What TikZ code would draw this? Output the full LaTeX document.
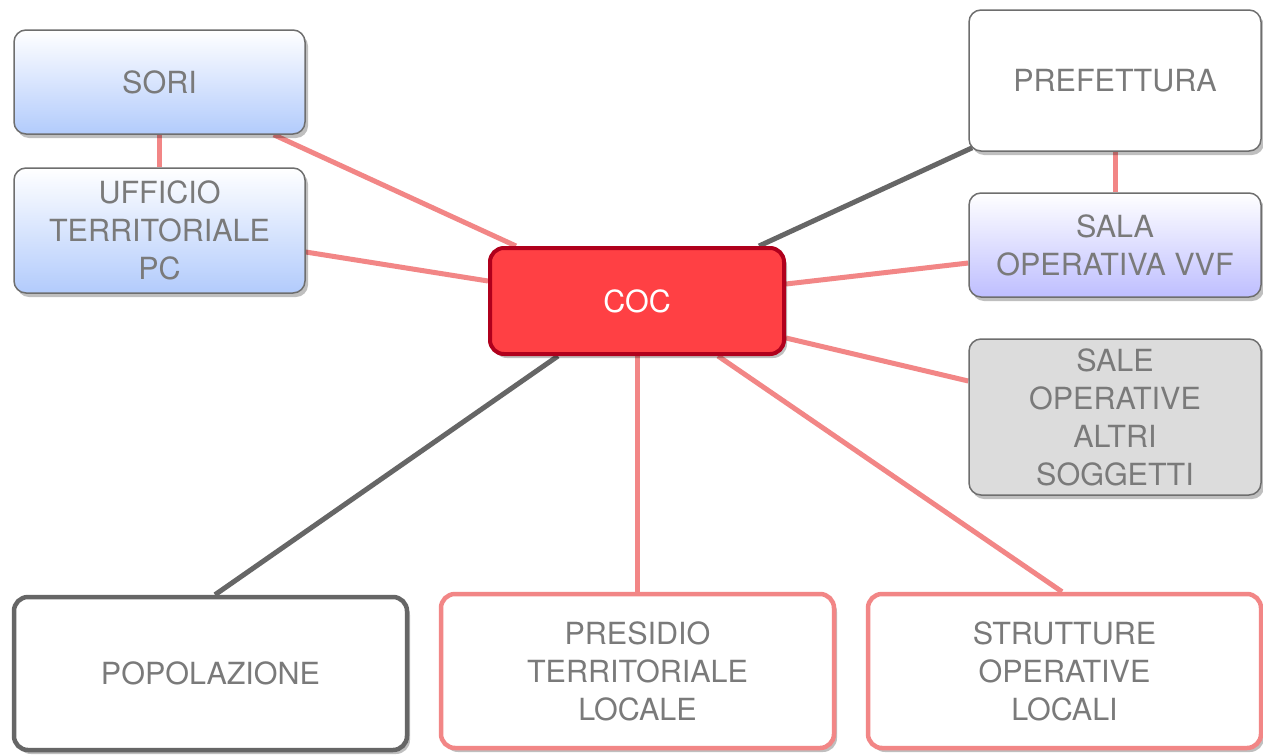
\documentclass[tikz,border=0pt]{standalone}
\usepackage{fontspec}
\setmainfont{TeX Gyre Heros}
\usetikzlibrary{shadows,backgrounds,calc}
\pgfdeclarelayer{edges}
\pgfsetlayers{background,edges,main}
\definecolor{txtgray}{HTML}{7A7A7A}
\definecolor{bordgray}{HTML}{6E6E6E}
\definecolor{salmon}{HTML}{F28686}
\definecolor{darkgray}{HTML}{666666}
\definecolor{cocred}{HTML}{FF4044}
\definecolor{cocborder}{HTML}{B0001C}
\definecolor{blueb}{HTML}{B2CBFC}
\definecolor{lavb}{HTML}{BEBEFF}
\definecolor{greyfill}{HTML}{DCDCDC}
\tikzset{
  box/.style={rectangle, rounded corners=12pt, draw=bordgray, line width=1.5pt,
    text=txtgray, align=center, inner sep=0pt,
    font=\fontsize{30.5}{38}\selectfont,
    drop shadow={shadow xshift=3pt, shadow yshift=-4pt, opacity=0.25, fill=black}},
  bluebox/.style={box, top color=white, bottom color=blueb},
  lavbox/.style={box, top color=white, bottom color=lavb},
  greybox/.style={box, fill=greyfill},
  whitebox/.style={box, fill=white},
  thickgray/.style={box, fill=white, draw=darkgray, line width=4.5pt, rounded corners=14pt},
  thicksalmon/.style={box, fill=white, draw=salmon, line width=4.5pt, rounded corners=14pt},
  cocbox/.style={box, fill=cocred, draw=cocborder, line width=4pt, text=white, rounded corners=14pt},
  redlink/.style={draw=salmon, line width=5pt},
  graylink/.style={draw=darkgray, line width=5pt},
}
\begin{document}
\begin{tikzpicture}[x=1pt,y=-1pt]
\begin{pgfonlayer}{background}
\fill[white] (0,0) rectangle (1263,755);
\end{pgfonlayer}
\useasboundingbox (0,0) rectangle (1263,755);
\node[bluebox, minimum width=291pt, minimum height=104pt] (sori) at (159.5,82) {SORI};
\node[bluebox, minimum width=291pt, minimum height=125pt] (uff) at (159.5,230.5) {UFFICIO\\TERRITORIALE\\PC};
\node[cocbox, minimum width=294pt, minimum height=106pt] (coc) at (637,301) {COC};
\node[whitebox, minimum width=292pt, minimum height=141pt] (pref) at (1115,80.5) {PREFETTURA};
\node[lavbox, minimum width=292pt, minimum height=104pt] (sala) at (1115,245) {SALA\\OPERATIVA VVF};
\node[greybox, minimum width=292pt, minimum height=156pt] (sale) at (1115,417) {SALE\\OPERATIVE\\ALTRI\\SOGGETTI};
\node[thickgray, minimum width=393pt, minimum height=153pt] (pop) at (210.5,673.5) {POPOLAZIONE};
\node[thicksalmon, minimum width=393pt, minimum height=154pt] (pres) at (637.5,671) {PRESIDIO\\TERRITORIALE\\LOCALE};
\node[thicksalmon, minimum width=393pt, minimum height=154pt] (str) at (1064.5,671) {STRUTTURE\\OPERATIVE\\LOCALI};
\begin{pgfonlayer}{edges}
\draw[redlink] (sori.south) -- (sori.south |- uff.north);
\draw[redlink] ([xshift=-32pt]sori.south east) -- ([xshift=28pt]coc.north west);
\draw[redlink] ([yshift=-21.5pt]uff.east) -- ([yshift=20pt]coc.west);
\draw[graylink] ([xshift=4pt,yshift=4pt]pref.south west) -- ([xshift=-27pt]coc.north east);
\draw[redlink] (pref.south) -- (sala.north);
\draw[redlink] ([yshift=-18pt]sala.west) -- ([yshift=17pt]coc.east);
\draw[redlink] ([yshift=36pt]sale.west) -- ([yshift=-37pt]coc.east);
\draw[graylink] ([xshift=-79pt]coc.south) -- ([xshift=4.5pt]pop.north);
\draw[redlink] (coc.south) -- (coc.south |- pres.north);
\draw[redlink] ([xshift=81pt]coc.south) -- ([xshift=-2.5pt]str.north);
\end{pgfonlayer}
\end{tikzpicture}
\end{document}
